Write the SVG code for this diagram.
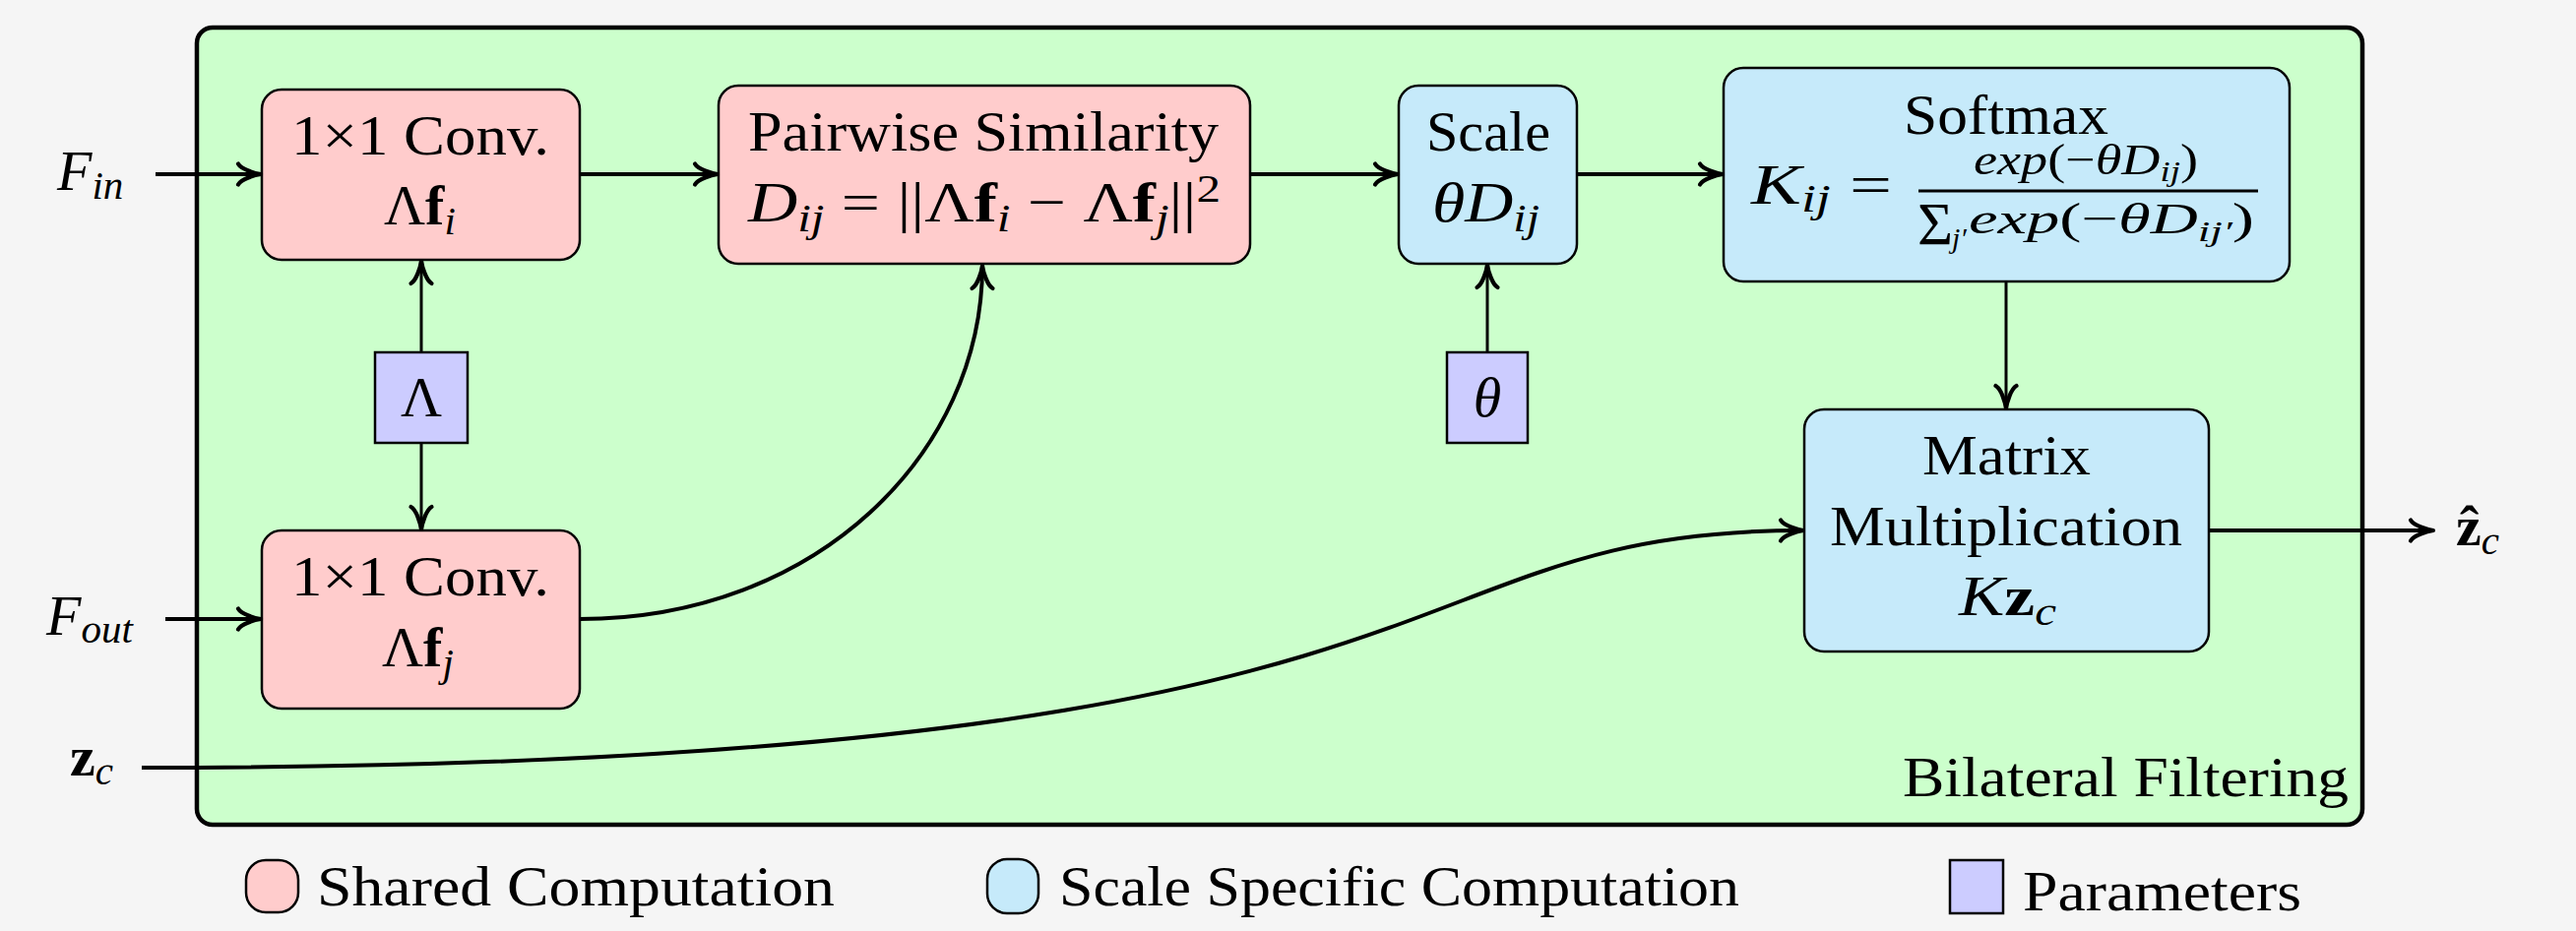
<svg xmlns="http://www.w3.org/2000/svg" width="2617" height="946" viewBox="0 0 2617 946">
<defs>
<style>
.t{font-family:"Liberation Serif","DejaVu Serif",serif;font-size:58px;fill:#000}
.i{font-style:italic}
.b{font-weight:bold}
.s{font-size:41px}
.ss{font-size:30px}
.box{stroke:#000;stroke-width:2.5}
.shared{fill:#ffcccc}
.scl{fill:#c6eafa}
.param{fill:#ccccff}
.c{fill:none;stroke:#000;stroke-width:4;marker-end:url(#arr)}
.c3{stroke-width:3}
</style>
<marker id="arr" markerUnits="userSpaceOnUse" viewBox="-26 -14 30 28" markerWidth="30" markerHeight="28" refX="0" refY="0" orient="auto" overflow="visible">
<path d="M-23,-10.5 C-20,-5 -6,-0.8 0,0 C-6,0.8 -20,5 -23,10.5" fill="none" stroke="#000" stroke-width="4.2" stroke-linecap="round" stroke-linejoin="round"/>
</marker>
</defs>
<rect x="0" y="0" width="2617" height="946" fill="#f5f5f5"/>

<g id="bilateral-filtering">
<rect x="200" y="28" width="2200" height="810" rx="16" fill="#ccffcc" stroke="#000" stroke-width="4.5"/>
<text class="t" x="1933" y="809" textLength="453" lengthAdjust="spacingAndGlyphs">Bilateral Filtering</text>
</g>

<g id="conv-i">
<rect class="box shared" x="266" y="91" width="323" height="173" rx="20"/>
<text class="t" x="296" y="157" textLength="262" lengthAdjust="spacingAndGlyphs">1×1 Conv.</text>
<text class="t" x="390" y="228">Λ<tspan class="b">f</tspan><tspan class="i s" dy="10">i</tspan></text>
</g>

<g id="conv-j">
<rect class="box shared" x="266" y="539" width="323" height="181" rx="20"/>
<text class="t" x="296" y="605" textLength="262" lengthAdjust="spacingAndGlyphs">1×1 Conv.</text>
<text class="t" x="388" y="677">Λ<tspan class="b">f</tspan><tspan class="i s" dy="10">j</tspan></text>
</g>

<g id="lambda-param">
<rect class="box param" x="381" y="358" width="94" height="92"/>
<text class="t" x="428" y="423" text-anchor="middle">Λ</text>
</g>

<g id="pairwise-similarity">
<rect class="box shared" x="730" y="87" width="540" height="181" rx="20"/>
<text class="t" x="760" y="153" textLength="478" lengthAdjust="spacingAndGlyphs">Pairwise Similarity</text>
<text class="t" x="760" y="225" textLength="480" lengthAdjust="spacingAndGlyphs"><tspan class="i">D</tspan><tspan class="i s" dy="10">ij</tspan><tspan dy="-10"> = ||Λ</tspan><tspan class="b">f</tspan><tspan class="i s" dy="10">i</tspan><tspan dy="-10"> − Λ</tspan><tspan class="b">f</tspan><tspan class="i s" dy="10">j</tspan><tspan dy="-10">||</tspan><tspan class="s" dy="-20">2</tspan></text>
</g>

<g id="scale">
<rect class="box scl" x="1421" y="87" width="181" height="181" rx="20"/>
<text class="t" x="1449" y="153" textLength="126" lengthAdjust="spacingAndGlyphs">Scale</text>
<text class="t" x="1455" y="225" textLength="109" lengthAdjust="spacingAndGlyphs"><tspan class="i">θD</tspan><tspan class="i s" dy="10">ij</tspan></text>
</g>

<g id="theta-param">
<rect class="box param" x="1470" y="358" width="82" height="92"/>
<text class="t i" x="1511" y="423" text-anchor="middle">θ</text>
</g>

<g id="softmax">
<rect class="box scl" x="1751" y="69" width="575" height="217" rx="20"/>
<text class="t" x="1934" y="136" textLength="208" lengthAdjust="spacingAndGlyphs">Softmax</text>
<text class="t" x="1779" y="207" textLength="143" lengthAdjust="spacingAndGlyphs"><tspan class="i">K</tspan><tspan class="i s" dy="8">ij</tspan><tspan dy="-8"> =</tspan></text>
<text class="t" x="2005" y="177" textLength="228" lengthAdjust="spacingAndGlyphs" style="font-size:44px"><tspan class="i">exp</tspan>(−<tspan class="i">θD</tspan><tspan class="i ss" dy="7">ij</tspan><tspan dy="-7">)</tspan></text>
<line x1="1949" y1="194" x2="2294" y2="194" stroke="#000" stroke-width="3"/>
<text class="t" x="1948" y="248" style="font-size:62px">Σ</text>
<text class="t i ss" x="1983" y="252">j′</text>
<text class="t" x="2000" y="237" textLength="290" lengthAdjust="spacingAndGlyphs" style="font-size:44px"><tspan class="i">exp</tspan>(−<tspan class="i">θD</tspan><tspan class="i ss" dy="8">ij′</tspan><tspan dy="-8">)</tspan></text>
</g>

<g id="matrix-multiplication">
<rect class="box scl" x="1833" y="416" width="411" height="246" rx="20"/>
<text class="t" x="1953" y="482" textLength="171" lengthAdjust="spacingAndGlyphs">Matrix</text>
<text class="t" x="1859" y="554" textLength="358" lengthAdjust="spacingAndGlyphs">Multiplication</text>
<text class="t" x="1990" y="625" textLength="99" lengthAdjust="spacingAndGlyphs"><tspan class="i">K</tspan><tspan class="b">z</tspan><tspan class="i s" dy="10">c</tspan></text>
</g>

<g id="input-labels">
<text class="t" x="58" y="193"><tspan class="i">F</tspan><tspan class="i s" dy="9">in</tspan></text>
<text class="t" x="47" y="645"><tspan class="i">F</tspan><tspan class="i s" dy="8">out</tspan></text>
<text class="t" x="71" y="788"><tspan class="b">z</tspan><tspan class="i s" dy="9">c</tspan></text>
<text class="t" x="2495" y="554"><tspan class="b">ẑ</tspan><tspan class="i s" dy="9">c</tspan></text>
</g>

<g id="connectors">
<path class="c" d="M158,177 H265"/>
<path class="c" d="M589,177 H729"/>
<path class="c" d="M1270,177 H1420"/>
<path class="c" d="M1602,177 H1750"/>
<path class="c c3" d="M428,358 V265"/>
<path class="c c3" d="M428,450 V538"/>
<path class="c c3" d="M1511,358 V269"/>
<path class="c c3" d="M2038,286 V415"/>
<path class="c" d="M2244,539 H2472"/>
<path class="c" d="M168,629 H265"/>
<path class="c" d="M589,629 C830,629 998,460 998,270"/>
<path class="c" d="M144,780 C1546,780 1388,539 1832,539"/>
</g>

<g id="legend">
<rect class="box shared" x="250" y="874" width="53" height="53" rx="20"/>
<text class="t" x="322" y="920" textLength="526" lengthAdjust="spacingAndGlyphs">Shared Computation</text>
<rect class="box scl" x="1003" y="873" width="52" height="55" rx="20"/>
<text class="t" x="1076" y="920" textLength="691" lengthAdjust="spacingAndGlyphs">Scale Specific Computation</text>
<rect class="box param" x="1981" y="874" width="54" height="54"/>
<text class="t" x="2055" y="925" textLength="283" lengthAdjust="spacingAndGlyphs">Parameters</text>
</g>
</svg>
